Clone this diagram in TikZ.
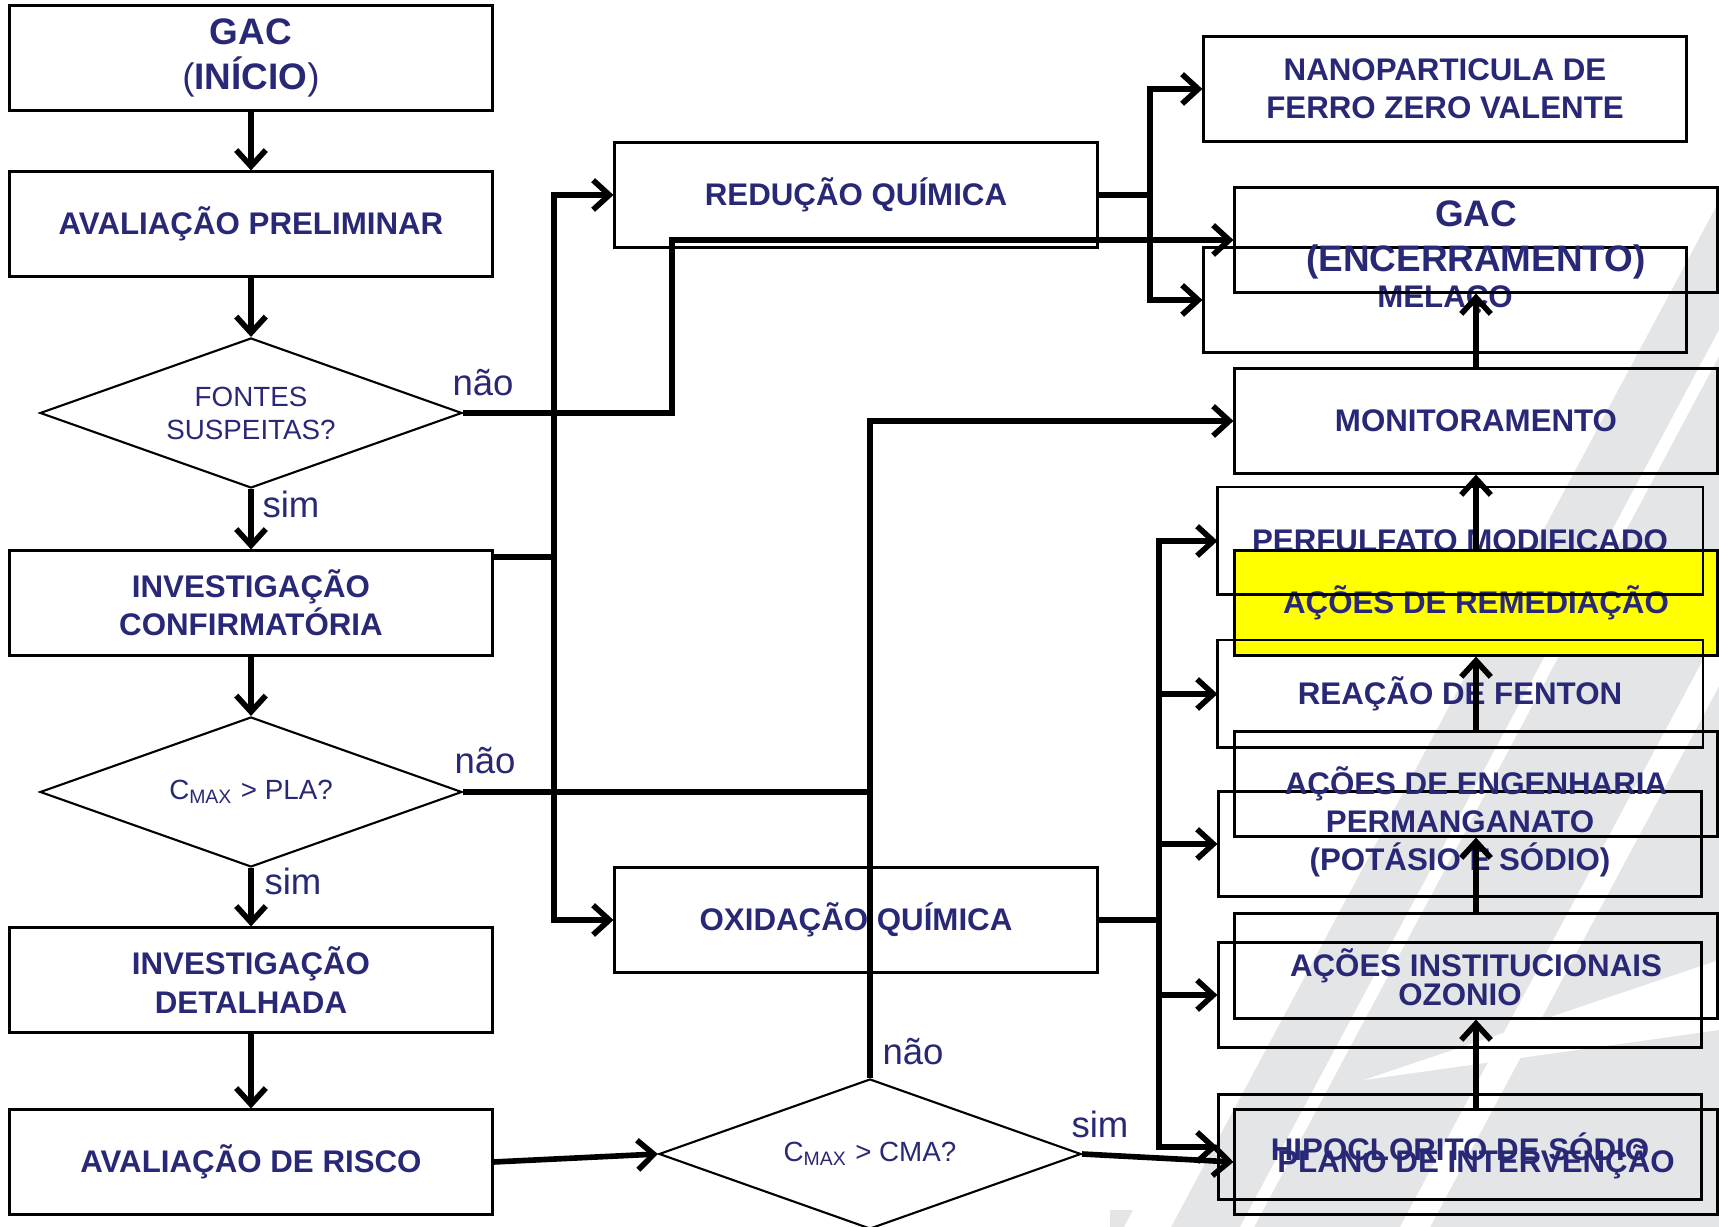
\documentclass[tikz,border=0pt]{standalone}
\usepackage{fontspec}
\setmainfont{Liberation Sans}
\usetikzlibrary{shapes.geometric,arrows.meta}
\definecolor{azul}{RGB}{40,40,118}
\definecolor{fundo}{RGB}{228,229,231}
\definecolor{amarelo}{RGB}{255,255,0}
\tikzstyle{caixa}=[draw,line width=0.6pt,minimum width=48.3mm,minimum height=10.5mm,inner sep=0pt,align=center,text=azul,font=\fontsize{8.9}{10.9}\selectfont\bfseries]
\tikzstyle{gac}=[caixa,font=\fontsize{10.5}{12.8}\selectfont\bfseries]
\tikzstyle{decisao}=[diamond,draw,line width=0.6pt,aspect=2.8,minimum width=42.2mm,minimum height=15mm,inner sep=0pt,align=center,text=azul,font=\fontsize{7.9}{9.4}\selectfont]
\tikzstyle{rotulo}=[inner sep=0pt,text=azul,font=\fontsize{10.4}{12}\selectfont]
\tikzstyle{linha}=[line width=1.6pt]
\tikzstyle{seta}=[linha,-{Straight Barb[length=4.6pt,width=8.4pt]}]

\begin{document}
\begin{tikzpicture}[x=0.1mm,y=-0.1mm]
    \useasboundingbox (0,0) rectangle (1719,1227);
    % fundo
    \fill[fundo] (1165,1227) -- (1719,190) -- (1719,1227) -- cycle;
    \fill[fundo] (1110,1210) rectangle (1719,1227);
    \fill[white] (1124,1227) -- (1171,1227) -- (1719,201) -- (1719,113) -- cycle;
    \fill[white] (1240,1227) -- (1254,1227) -- (1719,356) -- (1719,330) -- cycle;
    \fill[white] (1400,1227) -- (1430,1227) -- (1719,686) -- (1719,630) -- cycle;
    \fill[white] (1364,1080) -- (1719,960) -- (1719,1030) -- cycle;

    % fluxo principal
    \node[gac] (gacini) at (251,58) {GAC\\{\mdseries(}INÍCIO{\mdseries)}};
    \node[caixa] (prelim) at (251,224) {AVALIAÇÃO PRELIMINAR};
    \node[decisao] (fontes) at (251,413) {FONTES\\SUSPEITAS?};
    \node[caixa] (confirm) at (251,603) {INVESTIGAÇÃO\\CONFIRMATÓRIA};
    \node[decisao] (pla) at (251,792) {C\textsubscript{MAX} > PLA?};
    \node[caixa] (detal) at (251,980) {INVESTIGAÇÃO\\DETALHADA};
    \node[caixa] (risco) at (251,1162) {AVALIAÇÃO DE RISCO};
    \node[caixa] (reduc) at (856,195) {REDUÇÃO QUÍMICA};
    \node[caixa] (oxid) at (856,920) {OXIDAÇÃO QUÍMICA};
    \node[decisao] (cma) at (870,1154) {C\textsubscript{MAX} > CMA?};

    % tratamentos
    \node[caixa] (nano) at (1445,89) {NANOPARTICULA DE\\FERRO ZERO VALENTE};
    \node[caixa] (melaco) at (1445,300) {MELAÇO};
    \node[caixa,draw=none] (perf) at (1460,541) {PERFULFATO MODIFICADO};
    \node[caixa,draw=none] (fenton) at (1460,694) {REAÇÃO DE FENTON};
    \node[caixa] (perm) at (1460,844) {PERMANGANATO\\(POTÁSIO E SÓDIO)};
    \node[caixa] (ozon) at (1460,995) {OZONIO};
    \node[caixa] (hipo) at (1460,1147) {HIPOCLORITO DE SÓDIO};

    % gerenciamento
    \node[gac] (gacenc) at (1476,240) {GAC\\(ENCERRAMENTO)};
    \node[caixa] (monit) at (1476,421) {MONITORAMENTO};
    \node[caixa,fill=amarelo] (remed) at (1476,603) {AÇÕES DE REMEDIAÇÃO};
    \node[caixa] (eng) at (1476,784) {AÇÕES DE ENGENHARIA};
    \node[caixa] (inst) at (1476,966) {AÇÕES INSTITUCIONAIS};
    \node[caixa] (plano) at (1476,1162) {PLANO DE INTERVENÇÃO};
    \draw[line width=0.6pt] (perf.south west) rectangle (perf.north east);
    \draw[line width=0.6pt] (fenton.south west) rectangle (fenton.north east);

    \node[rotulo] (nao1) at (483,383) {não};
    \node[rotulo] (sim1) at (291,504) {sim};
    \node[rotulo] (nao2) at (485,761) {não};
    \node[rotulo] (sim2) at (293,881) {sim};
    \node[rotulo] (nao3) at (913,1052) {não};
    \node[rotulo] (sim3) at (1100,1124) {sim};

    \draw[seta] (gacini.south) -- (prelim.north);
    \draw[seta] (prelim.south) -- (fontes.north);
    \draw[seta] (fontes.south) -- (confirm.north);
    \draw[seta] (confirm.south) -- (pla.north);
    \draw[seta] (pla.south) -- (detal.north);
    \draw[seta] (detal.south) -- (risco.north);
    \draw[seta] (risco.east) -- (cma.west);

    \coordinate (ramo) at (554,557);
    \draw[linha] (confirm.east |- ramo) -- (ramo);
    \draw[seta] (ramo) |- (reduc.west);
    \draw[seta] (ramo) |- (oxid.west);

    \coordinate (desvio) at (672,413);
    \draw[seta] (fontes.east) -- (desvio) |- (gacenc.west);
    \draw[linha] (pla.east) -- (pla.east -| cma.north);
    \draw[seta] (cma.north) |- (monit.west);

    \coordinate (ramored) at (1150,195);
    \draw[linha] (reduc.east) -- (ramored);
    \draw[seta] (ramored) |- (nano.west);
    \draw[seta] (ramored) |- (melaco.west);

    \coordinate (ramoox) at (1159,920);
    \draw[linha] (oxid.east) -- (ramoox);
    \foreach \n in {perf,fenton,perm,ozon,hipo}
        \draw[seta] (ramoox) |- (\n.west);

    \draw[seta] (cma.east) -- (plano.west);
    \foreach \a/\b in {plano/inst,inst/eng,eng/remed,remed/monit,monit/gacenc}
        \draw[seta] (\a.north) -- (\b.south);
\end{tikzpicture}
\end{document}
